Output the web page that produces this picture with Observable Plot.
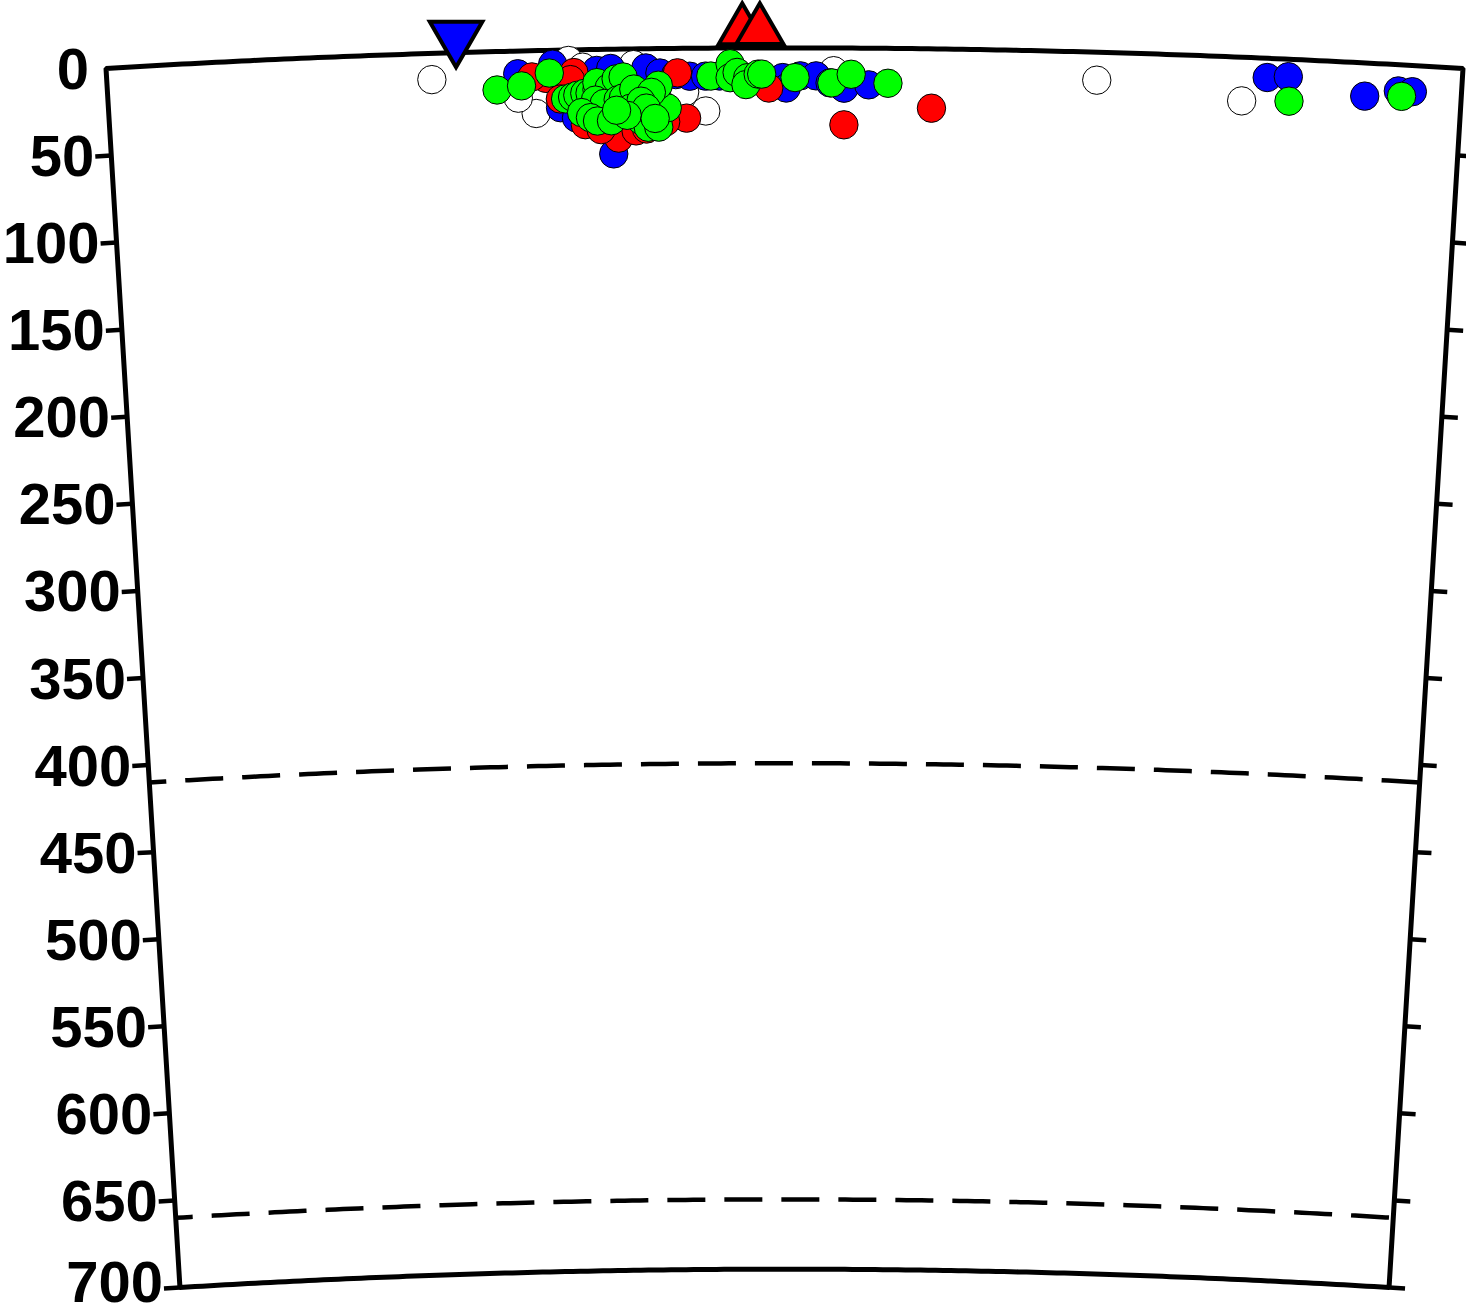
<!DOCTYPE html>
<html>
<head>
<meta charset="utf-8">
<script src="https://cdn.jsdelivr.net/npm/d3@7"></script>
<script src="https://cdn.jsdelivr.net/npm/@observablehq/plot@0.6"></script>
<style>
  html, body { margin: 0; padding: 0; background: #fff; }
  #chart svg { display: block; }
</style>
</head>
<body>
<div id="chart"></div>
<script>
// ---- Section extent (distance along profile in km, depth in km) ----
const distExtent = [0, 772];
const depthExtent = [0, 700];
const depthTicks = [0, 50, 100, 150, 200, 250, 300, 350, 400, 450, 500, 550, 600, 650, 700];
const discontinuities = [410, 660];

// ---- Hypocentres [distance km, depth km] ----
const whiteEvents = [
  [185,15],[564,16],[647,25],[244,36],[234,27],[341,36],[263,6],[271,10],[414,13],[329,25],[300,9]
];
const blueEvents = [
  [234,13],[254,8],[288,60],[279,12],[287,11],[307,11],[315,14],[324,15],[332,16],[341,16],
  [349,16],[361,16],[371,16],[385,17],[395,16],[404,16],[412,20],[420,23],[434,21],[387,23],
  [258,33],[267,39],[661,11],[673,10],[717,19],[736,15],[744,15]
];
const redEvents = [
  [470,34],[420,44],[377,23],[325,14],[330,40],[291,51],[250,16],[242,15],[266,13],[264,17],
  [258,28],[272,43],[281,46],[278,39],[301,47],[318,42],[307,46]
];
const greenEvents = [
  [222,22],[236,20],[252,13],[261,28],[265,27],[268,26],[272,25],[275,25],[279,23],[279,19],
  [286,22],[290,17],[294,16],[278,29],[283,31],[291,29],[294,28],[300,23],[298,34],[304,41],
  [308,45],[314,45],[315,35],[319,34],[314,21],[310,25],[270,36],[275,39],[279,41],[287,41],
  [304,30],[307,34],[296,38],[290,35],[312,40],[344,16],[355,9],[355,17],[359,14],[365,17],
  [364,21],[371,15],[373,15],[392,17],[413,20],[424,15],[445,20],[674,24],[738,18]
];
// ---- Surface symbols [distance km, elevation as negative depth km] ----
const volcanoes = [[362,-10],[372,-10]];
const stations = [[199.5,-9]];

// ---- Curved (spherical Earth) section projection ----
const W = 1466, H = 1314;
const EARTH = 6371;
const MID = (distExtent[0] + distExtent[1]) / 2;
const CX = 784, CY = 11253, R0 = 11205.6, K = 1.7447;
const radius = (depth) => R0 - K * depth;
const section = d3.geoTransform({
  point(dist, depth) {
    const t = (dist - MID) / EARTH, r = radius(depth);
    this.stream.point(CX + r * Math.sin(t), CY - r * Math.cos(t));
  }
});

// arc of constant depth, sampled so that it renders curved
const arc = (depth, d0 = distExtent[0], d1 = distExtent[1]) =>
  d3.range(0, 161).map(i => ({dist: d0 + (d1 - d0) * i / 160, depth}));

const ring = [
  ...arc(depthExtent[0], distExtent[0], distExtent[1]),
  ...arc(depthExtent[1], distExtent[1], distExtent[0])
];
ring.push(ring[0], ring[1]);

const dashed = discontinuities.flatMap(d => arc(d));

// tick marks along constant-depth arcs, 16px long, outside both edges
const tickLen = (d) => 16 * EARTH / radius(d);
const tickRows = depthTicks.filter(d => d > 0).flatMap(d => [
  {x1: distExtent[0], x2: distExtent[0] - tickLen(d), depth: d},
  {x1: distExtent[1], x2: distExtent[1] + tickLen(d), depth: d}
]);

const invTriangle = {
  draw(context, size) {
    const y = Math.sqrt(size / (Math.sqrt(3) * 3));
    context.moveTo(0, 2 * y);
    context.lineTo(-Math.sqrt(3) * y, -y);
    context.lineTo(Math.sqrt(3) * y, -y);
    context.closePath();
  }
};

const ev = (data, fill) => Plot.dot(data, {
  x: d => d[0], y: d => d[1], r: 14.2, fill, stroke: "black", strokeWidth: 1
});

const labelOpts = (dy) => ({
  x: () => distExtent[0], y: d => d, text: d => String(d),
  textAnchor: "end", dx: -17, dy,
  fontSize: 58, fontWeight: "bold",
  fontFamily: "'Liberation Sans', Arial, Helvetica, sans-serif", fill: "black"
});
const lastTick = depthTicks[depthTicks.length - 1];

const chart = Plot.plot({
  width: W,
  height: H,
  margin: 0,
  projection: section,
  style: {background: "#fff"},
  marks: [
    Plot.line(dashed, {
      x: "dist", y: "depth", z: "depth", stroke: "black", strokeWidth: 4.5,
      strokeDasharray: "38,19", strokeDashoffset: 21, strokeLinecap: "butt", curve: "linear"
    }),
    Plot.link(tickRows, {
      x1: "x1", x2: "x2", y1: "depth", y2: "depth",
      stroke: "black", strokeWidth: 4.5, strokeLinecap: "butt", curve: "linear"
    }),
    Plot.line(ring, {
      x: "dist", y: "depth", stroke: "black", strokeWidth: 5,
      strokeLinejoin: "miter", strokeLinecap: "butt", curve: "linear"
    }),
    Plot.text(depthTicks.filter(d => d !== lastTick), labelOpts(2)),
    Plot.text([lastTick], labelOpts(-4)),
    ev(whiteEvents, "white"),
    ev(blueEvents, "#0000ff"),
    ev(redEvents, "#ff0000"),
    ev(greenEvents, "#00ff00"),
    Plot.dot(stations, {
      x: d => d[0], y: d => d[1], symbol: invTriangle, r: 19.5,
      fill: "#0000ff", stroke: "black", strokeWidth: 4, strokeLinejoin: "miter"
    }),
    Plot.dot(volcanoes, {
      x: d => d[0], y: d => d[1], symbol: "triangle", r: 17.5,
      fill: "#ff0000", stroke: "black", strokeWidth: 4, strokeLinejoin: "miter"
    })
  ]
});
document.getElementById("chart").append(chart);
</script>
</body>
</html>
